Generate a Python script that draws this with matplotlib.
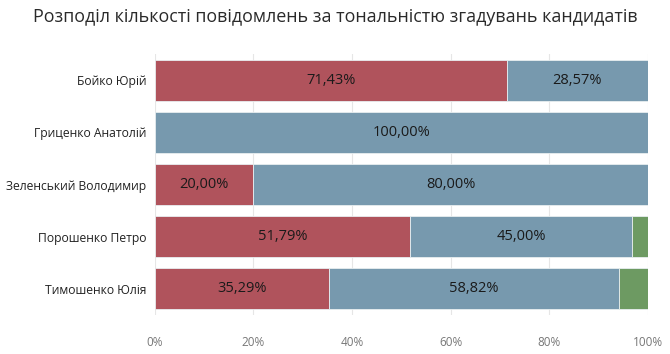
import matplotlib
matplotlib.use("Agg")
import matplotlib.pyplot as plt
import numpy as np

plt.rcParams['font.family'] = ['Open Sans', 'DejaVu Sans']

title = "Розподіл кількості повідомлень за тональністю згадувань кандидатів"
candidates = ["Бойко Юрій", "Гриценко Анатолій", "Зеленський Володимир",
              "Порошенко Петро", "Тимошенко Юлія"]
negative = [71.43, 0.0, 20.00, 51.79, 35.29]
neutral = [28.57, 100.00, 80.00, 45.00, 58.82]
positive = [0.0, 0.0, 0.0, 3.21, 5.89]
xticks = [0, 20, 40, 60, 80, 100]
xticklabels = ["0%", "20%", "40%", "60%", "80%", "100%"]

colors = ["#b0535c", "#7799ae", "#6d9a62"]

fig = plt.figure(figsize=(6.7, 3.54), dpi=100)
ax = fig.add_axes([0.231, 0.110, 0.736, 0.737])

y = np.arange(len(candidates))
left = np.zeros(len(candidates))
for vals, col in zip([negative, neutral, positive], colors):
    vals = np.array(vals)
    bars = ax.barh(y, vals, left=left, height=0.785, color=col,
                   edgecolor="#e8eef0", linewidth=0.6, zorder=2)
    for yi, v, l in zip(y, vals, left):
        if v >= 10:
            ax.text(l + v / 2, yi, f"{v:.2f}%".replace(".", ","),
                    ha="center", va="center", fontsize=10.5, color="#1a1a1a", zorder=3)
    left = left + vals

ax.set_xlim(0, 100)
ax.set_ylim(len(candidates) - 0.5, -0.5)
ax.set_yticks(y)
ax.set_yticklabels(candidates, fontsize=8.7, color="#222222")
ax.set_xticks(xticks)
ax.set_xticklabels(xticklabels, fontsize=8.5, color="#777777")
ax.tick_params(axis="both", length=0)
ax.tick_params(axis="x", pad=15)
ax.tick_params(axis="y", pad=6)
ax.grid(axis="x", color="#e6e6e6", linewidth=0.8, zorder=0)
ax.set_axisbelow(True)
for s in ax.spines.values():
    s.set_visible(False)

fig.text(0.5, 0.953, title, ha="center", va="center", fontsize=12.9,
         color="#2a2a2a")

fig.savefig("out.png", dpi=100)
